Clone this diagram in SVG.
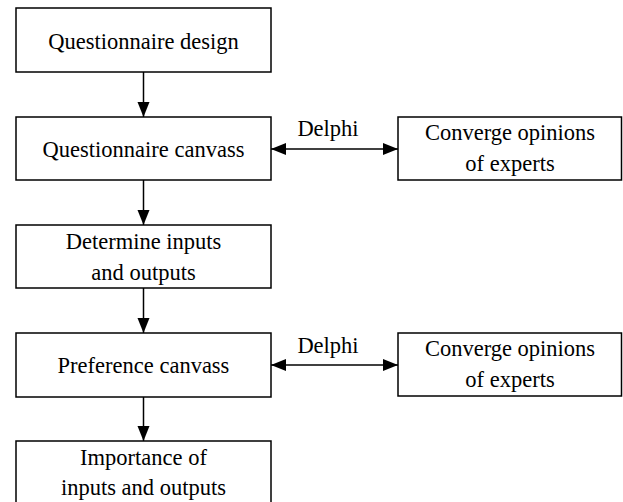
<svg xmlns="http://www.w3.org/2000/svg" width="623" height="502" viewBox="0 0 623 502">
<style>
.box{fill:#fff;stroke:#000;stroke-width:1.5}
.t{font-family:'Liberation Serif','Times New Roman',serif;font-size:22.5px;fill:#000;text-anchor:middle}
.c{stroke:#000;stroke-width:1.5;fill:none}
</style>
<defs>
<marker id="ah" markerUnits="userSpaceOnUse" markerWidth="16" markerHeight="14" refX="15" refY="7" orient="auto-start-reverse">
<path d="M0,1 L15,7 L0,13 Z" fill="#000"/>
</marker>
</defs>
<rect width="623" height="502" fill="#fff"/>
<g id="connectors">
<line class="c" x1="143.5" y1="72" x2="143.5" y2="117" marker-end="url(#ah)"/>
<line class="c" x1="143.5" y1="180" x2="143.5" y2="225" marker-end="url(#ah)"/>
<line class="c" x1="143.5" y1="288" x2="143.5" y2="333" marker-end="url(#ah)"/>
<line class="c" x1="143.5" y1="397" x2="143.5" y2="441" marker-end="url(#ah)"/>
<line class="c" x1="271" y1="149" x2="398" y2="149" marker-start="url(#ah)" marker-end="url(#ah)"/>
<text class="t" x="328" y="136">Delphi</text>
<line class="c" x1="271" y1="365" x2="398" y2="365" marker-start="url(#ah)" marker-end="url(#ah)"/>
<text class="t" x="328" y="353">Delphi</text>
</g>
<g id="n1"><rect class="box" x="16" y="8" width="255" height="64"/><text class="t" x="143.5" y="49">Questionnaire design</text></g>
<g id="n2"><rect class="box" x="16" y="117" width="255" height="63"/><text class="t" x="143.5" y="157">Questionnaire canvass</text></g>
<g id="n3"><rect class="box" x="16" y="225" width="255" height="63"/><text class="t" x="143.5" y="249">Determine inputs</text><text class="t" x="143.5" y="280">and outputs</text></g>
<g id="n4"><rect class="box" x="16" y="333" width="255" height="64"/><text class="t" x="143.5" y="373">Preference canvass</text></g>
<g id="n5"><rect class="box" x="16" y="441" width="255" height="70"/><text class="t" x="143.5" y="465">Importance of</text><text class="t" x="143.5" y="495">inputs and outputs</text></g>
<g id="r1"><rect class="box" x="398" y="117" width="223.5" height="63"/><text class="t" x="510" y="140">Converge opinions</text><text class="t" x="510" y="171">of experts</text></g>
<g id="r2"><rect class="box" x="398" y="333" width="223.5" height="63"/><text class="t" x="510" y="356">Converge opinions</text><text class="t" x="510" y="387">of experts</text></g>
</svg>
